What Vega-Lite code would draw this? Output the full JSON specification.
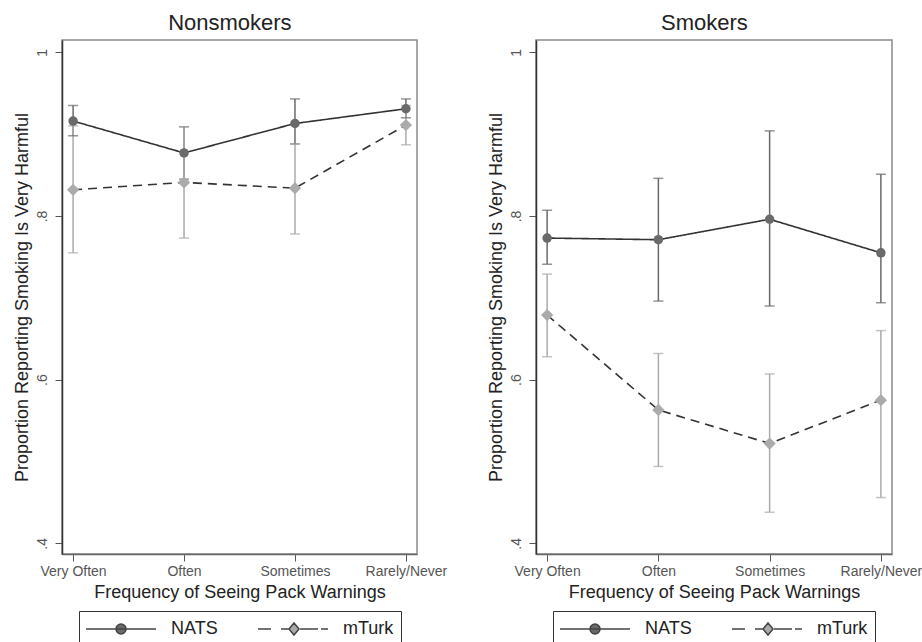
{
  "$schema": "https://vega.github.io/schema/vega-lite/v6.json",
  "background": "white",
  "padding": {"left": 12, "top": 11, "right": 5, "bottom": 5},
  "spacing": 119,
  "bounds": "flush",
  "config": {
    "font": "Liberation Sans",
    "view": {"stroke": "#8a8a8a", "strokeWidth": 1.5},
    "axis": {"grid": false, "labelFont": "Liberation Sans", "titleFont": "Liberation Sans", "titleFontWeight": "normal"},
    "axisX": {"domainColor": "#666", "domainWidth": 1.5, "tickColor": "#555", "tickSize": 7, "labelFontSize": 14, "labelColor": "#555", "labelAngle": 0, "labelPadding": 3, "titleFontSize": 18, "titleColor": "#222", "titlePadding": 5},
    "axisY": {"domainColor": "#333", "domainWidth": 1.5, "tickColor": "#555", "tickSize": 7, "labelFontSize": 14, "labelColor": "#555", "labelAngle": 270, "labelPadding": 6, "titleFontSize": 18, "titleColor": "#222", "titlePadding": 4},
    "title": {"font": "Liberation Sans", "fontSize": 22, "fontWeight": "normal", "color": "#222", "anchor": "middle", "frame": "bounds", "offset": 5},
    "legend": {"labelFont": "Liberation Sans", "layout": {"bottom": {"anchor": "middle"}}}
  },
  "datasets": {
    "d": [
      {"panel": "Nonsmokers", "freq": "Very Often", "source": "NATS", "p": 0.916, "lo": 0.898, "hi": 0.935},
      {"panel": "Nonsmokers", "freq": "Often", "source": "NATS", "p": 0.877, "lo": 0.845, "hi": 0.909},
      {"panel": "Nonsmokers", "freq": "Sometimes", "source": "NATS", "p": 0.913, "lo": 0.888, "hi": 0.943},
      {"panel": "Nonsmokers", "freq": "Rarely/Never", "source": "NATS", "p": 0.931, "lo": 0.920, "hi": 0.943},
      {"panel": "Nonsmokers", "freq": "Very Often", "source": "mTurk", "p": 0.832, "lo": 0.755, "hi": 0.910},
      {"panel": "Nonsmokers", "freq": "Often", "source": "mTurk", "p": 0.841, "lo": 0.773, "hi": 0.909},
      {"panel": "Nonsmokers", "freq": "Sometimes", "source": "mTurk", "p": 0.834, "lo": 0.778, "hi": 0.888},
      {"panel": "Nonsmokers", "freq": "Rarely/Never", "source": "mTurk", "p": 0.911, "lo": 0.887, "hi": 0.935},
      {"panel": "Smokers", "freq": "Very Often", "source": "NATS", "p": 0.773, "lo": 0.741, "hi": 0.807},
      {"panel": "Smokers", "freq": "Often", "source": "NATS", "p": 0.771, "lo": 0.696, "hi": 0.846},
      {"panel": "Smokers", "freq": "Sometimes", "source": "NATS", "p": 0.796, "lo": 0.690, "hi": 0.904},
      {"panel": "Smokers", "freq": "Rarely/Never", "source": "NATS", "p": 0.755, "lo": 0.694, "hi": 0.851},
      {"panel": "Smokers", "freq": "Very Often", "source": "mTurk", "p": 0.679, "lo": 0.628, "hi": 0.729},
      {"panel": "Smokers", "freq": "Often", "source": "mTurk", "p": 0.563, "lo": 0.494, "hi": 0.632},
      {"panel": "Smokers", "freq": "Sometimes", "source": "mTurk", "p": 0.522, "lo": 0.438, "hi": 0.607},
      {"panel": "Smokers", "freq": "Rarely/Never", "source": "mTurk", "p": 0.575, "lo": 0.456, "hi": 0.660}
    ]
  },
  "resolve": {"scale": {"shape": "independent", "fill": "independent"}, "legend": {"shape": "independent", "fill": "independent"}},
  "hconcat": [
    {
      "title": {"text": "Nonsmokers"},
      "width": 355,
      "height": 514,
      "data": {"name": "d"},
      "transform": [{"filter": "datum.panel === 'Nonsmokers'"}],
      "encoding": {
        "x": {"field": "freq", "type": "nominal", "sort": ["Very Often", "Often", "Sometimes", "Rarely/Never"], "scale": {"type": "point", "padding": 0.1}, "title": "Frequency of Seeing Pack Warnings"}
      },
      "layer": [
        {"mark": {"type": "rule", "strokeWidth": 1.5}, "encoding": {
          "y": {"field": "lo", "type": "quantitative", "scale": {"domain": [0.387, 1.015], "nice": false, "zero": false}, "axis": {"values": [0.4, 0.6, 0.8, 1], "labelExpr": "datum.value == 1 ? '1' : substring(format(datum.value, '.1f'), 1)"}, "title": "Proportion Reporting Smoking Is Very Harmful"},
          "y2": {"field": "hi"},
          "color": {"field": "source", "type": "nominal", "scale": {"domain": ["NATS", "mTurk"], "range": ["#6a6a6a", "#ababab"]}, "legend": null}}},
        {"mark": {"type": "tick", "orient": "horizontal", "size": 10, "thickness": 1.5}, "encoding": {
          "y": {"field": "lo", "type": "quantitative"},
          "color": {"field": "source", "type": "nominal", "legend": null}}},
        {"mark": {"type": "tick", "orient": "horizontal", "size": 10, "thickness": 1.5}, "encoding": {
          "y": {"field": "hi", "type": "quantitative"},
          "color": {"field": "source", "type": "nominal", "legend": null}}},
        {"mark": {"type": "line", "strokeWidth": 1.6, "color": "#333"}, "encoding": {
          "y": {"field": "p", "type": "quantitative"},
          "detail": {"field": "source"},
          "strokeDash": {"field": "source", "type": "nominal", "scale": {"domain": ["NATS", "mTurk"], "range": [[1, 0], [9, 6]]}, "legend": null}}},
        {"transform": [{"filter": "datum.source === 'NATS'"}],
         "mark": {"type": "point", "shape": "circle", "filled": true, "opacity": 1, "size": 90, "color": "#6a6a6a"},
         "encoding": {"y": {"field": "p", "type": "quantitative"}}},
        {"transform": [{"filter": "datum.source === 'mTurk'"}],
         "mark": {"type": "point", "shape": "diamond", "filled": true, "opacity": 1, "size": 150, "color": "#ababab"},
         "encoding": {"y": {"field": "p", "type": "quantitative"}}},
        {"transform": [{"filter": "datum.p > 2"}],
         "mark": {"type": "point", "filled": true, "opacity": 1, "stroke": "#444", "strokeWidth": 1.5},
         "encoding": {
          "fill": {"field": "source", "type": "nominal", "scale": {"domain": ["NATS", "mTurk"], "range": ["#6a6a6a", "#ababab"]},
            "legend": {"title": null, "orient": "bottom", "direction": "horizontal", "strokeColor": "#333", "padding": 7, "symbolSize": 400, "symbolStrokeWidth": 1.5, "symbolOpacity": 1, "labelFontSize": 18, "labelColor": "#222", "labelOffset": 63, "columnPadding": 37, "offset": 10}},
          "shape": {"field": "source", "type": "nominal", "scale": {"domain": ["NATS", "mTurk"], "range": ["M-1.1,0H5.9M1.9,0A0.5,0.5 0 1,0 2.9,0A0.5,0.5 0 1,0 1.9,0", "M-1.1,0H0.2M1.2,0H2M2,0L2.5,-0.6L3,0L2.5,0.6ZM3.1,0H4.9M5.2,0H5.9"]},
            "legend": {"title": null, "orient": "bottom", "direction": "horizontal", "strokeColor": "#333", "padding": 7, "symbolSize": 400, "symbolStrokeWidth": 1.5, "symbolOpacity": 1, "labelFontSize": 18, "labelColor": "#222", "labelOffset": 63, "columnPadding": 37, "offset": 10}}}}
      ]
    },
    {
      "title": {"text": "Smokers"},
      "width": 356,
      "height": 514,
      "data": {"name": "d"},
      "transform": [{"filter": "datum.panel === 'Smokers'"}],
      "encoding": {
        "x": {"field": "freq", "type": "nominal", "sort": ["Very Often", "Often", "Sometimes", "Rarely/Never"], "scale": {"type": "point", "padding": 0.1}, "title": "Frequency of Seeing Pack Warnings"}
      },
      "layer": [
        {"mark": {"type": "rule", "strokeWidth": 1.5}, "encoding": {
          "y": {"field": "lo", "type": "quantitative", "scale": {"domain": [0.387, 1.015], "nice": false, "zero": false}, "axis": {"values": [0.4, 0.6, 0.8, 1], "labelExpr": "datum.value == 1 ? '1' : substring(format(datum.value, '.1f'), 1)"}, "title": "Proportion Reporting Smoking Is Very Harmful"},
          "y2": {"field": "hi"},
          "color": {"field": "source", "type": "nominal", "scale": {"domain": ["NATS", "mTurk"], "range": ["#6a6a6a", "#ababab"]}, "legend": null}}},
        {"mark": {"type": "tick", "orient": "horizontal", "size": 10, "thickness": 1.5}, "encoding": {
          "y": {"field": "lo", "type": "quantitative"},
          "color": {"field": "source", "type": "nominal", "legend": null}}},
        {"mark": {"type": "tick", "orient": "horizontal", "size": 10, "thickness": 1.5}, "encoding": {
          "y": {"field": "hi", "type": "quantitative"},
          "color": {"field": "source", "type": "nominal", "legend": null}}},
        {"mark": {"type": "line", "strokeWidth": 1.6, "color": "#333"}, "encoding": {
          "y": {"field": "p", "type": "quantitative"},
          "detail": {"field": "source"},
          "strokeDash": {"field": "source", "type": "nominal", "scale": {"domain": ["NATS", "mTurk"], "range": [[1, 0], [9, 6]]}, "legend": null}}},
        {"transform": [{"filter": "datum.source === 'NATS'"}],
         "mark": {"type": "point", "shape": "circle", "filled": true, "opacity": 1, "size": 90, "color": "#6a6a6a"},
         "encoding": {"y": {"field": "p", "type": "quantitative"}}},
        {"transform": [{"filter": "datum.source === 'mTurk'"}],
         "mark": {"type": "point", "shape": "diamond", "filled": true, "opacity": 1, "size": 150, "color": "#ababab"},
         "encoding": {"y": {"field": "p", "type": "quantitative"}}},
        {"transform": [{"filter": "datum.p > 2"}],
         "mark": {"type": "point", "filled": true, "opacity": 1, "stroke": "#444", "strokeWidth": 1.5},
         "encoding": {
          "fill": {"field": "source", "type": "nominal", "scale": {"domain": ["NATS", "mTurk"], "range": ["#6a6a6a", "#ababab"]},
            "legend": {"title": null, "orient": "bottom", "direction": "horizontal", "strokeColor": "#333", "padding": 7, "symbolSize": 400, "symbolStrokeWidth": 1.5, "symbolOpacity": 1, "labelFontSize": 18, "labelColor": "#222", "labelOffset": 63, "columnPadding": 37, "offset": 10}},
          "shape": {"field": "source", "type": "nominal", "scale": {"domain": ["NATS", "mTurk"], "range": ["M-1.1,0H5.9M1.9,0A0.5,0.5 0 1,0 2.9,0A0.5,0.5 0 1,0 1.9,0", "M-1.1,0H0.2M1.2,0H2M2,0L2.5,-0.6L3,0L2.5,0.6ZM3.1,0H4.9M5.2,0H5.9"]},
            "legend": {"title": null, "orient": "bottom", "direction": "horizontal", "strokeColor": "#333", "padding": 7, "symbolSize": 400, "symbolStrokeWidth": 1.5, "symbolOpacity": 1, "labelFontSize": 18, "labelColor": "#222", "labelOffset": 63, "columnPadding": 37, "offset": 10}}}}
      ]
    }
  ]
}
